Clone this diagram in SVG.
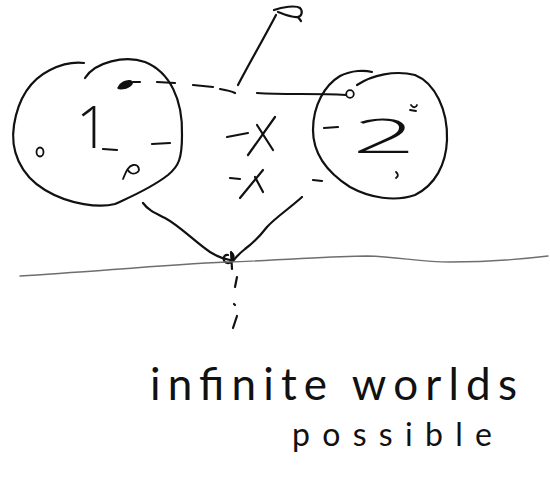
<svg xmlns="http://www.w3.org/2000/svg" width="550" height="479" viewBox="0 0 550 479">
<style>
.ink{fill:none;stroke:#111;stroke-width:2.2;stroke-linecap:round;stroke-linejoin:round}
.thin{fill:none;stroke:#111;stroke-width:1.8;stroke-linecap:round}
.ground{fill:none;stroke:#6e6e6e;stroke-width:1.4;stroke-linecap:round}
.hand{font-family:Lato,"Open Sans","Liberation Sans",sans-serif;font-weight:400;fill:#111}
.num{font-family:"Open Sans","Liberation Sans",sans-serif;font-weight:300;fill:#111}
</style>
<rect width="550" height="479" fill="#fff"/>
<g id="world1">
<path class="ink" d="M85,78 C95,62 125,55 145,62 C170,72 183,100 182,135 C182,158 179,166 168,175 C150,189 130,197 115,204 C100,208 70,205 45,190 C20,175 10,150 14,125 C18,100 30,80 50,70 C64,63 75,62 84,63"/>
<text class="num" x="76" y="148" font-size="58">1</text>
<path class="ink" d="M103,149 L117,150"/>
<path class="ink" d="M152,144 L170,143"/>
<ellipse cx="40" cy="152" rx="3.5" ry="4.5" class="thin"/>
<path class="thin" d="M123,179 C126,172 128,166 133,165 C139,164 141,171 136,173 C132,175 129,172 128,170"/>
<path d="M118,88 C120,83 126,80 131,81 C134,83 131,86 126,88 C122,89 119,89 118,88 Z" fill="#111" stroke="#111" stroke-width="1.5"/>
</g>
<g id="world2">
<path class="ink" d="M357,85 C372,75 395,70 415,75 C435,83 448,110 447,140 C446,165 435,185 415,195 C395,202 370,198 350,187 C328,173 313,155 313,130 C313,105 325,85 340,76 C352,70 365,70 372,72"/>
<text class="num" x="352" y="153" font-size="48" textLength="64" lengthAdjust="spacingAndGlyphs">2</text>
<path class="ink" d="M324,128 L338,127"/>
<circle cx="350" cy="94" r="3.8" class="thin"/>
<path class="thin" d="M411,105 C413,108 416,108 417,105 M410,110 L416,111"/>
<path class="thin" d="M396,172 C398,174 399,176 396,178"/>
</g>
<g id="observer">
<path class="ink" d="M238,85 C250,62 264,38 276,15"/>
<path class="ink" d="M274,10 C282,7 296,5 300,8 C303,11 302,16 298,17 C292,18 283,14 278,12 M298,17 L301,21"/>
</g>
<g id="marks">
<path class="ink" d="M227,137 L248,133"/>
<path class="ink" d="M248,155 L275,117"/>
<path class="ink" d="M257,125 L273,150"/>
<path class="ink" d="M230,178 L240,179"/>
<path class="ink" d="M240,198 L263,170"/>
<path class="ink" d="M255,177 L263,192"/>
<path class="ink" d="M313,180 L322,181"/>
</g>
<g id="connectors">
<path class="ink" d="M133,82 L140,82 M157,82 L175,83 M193,85 L213,87 M220,89 C226,90 231,91 235,93"/>
<path class="ink" d="M257,93 C285,95 315,93 346,95"/>
<path class="ink" d="M143,203 C148,210 155,213 165,218 C180,226 195,242 210,252 C218,257 224,259 230,260"/>
<path class="ink" d="M302,197 C290,208 275,218 267,227 C260,236 252,244 245,249 C240,253 236,257 233,261"/>
<path class="ink" d="M228,255 C222,254 222,264 229,263 C233,262 235,256 232,253 M231,252 L232,269"/>
<path class="ink" d="M237,277 L235,287 M234,304 L235,305 M237,316 L233,328"/>
</g>
<g id="horizon">
<path class="ground" d="M20,276 C90,272 160,265 227,262 C290,260 330,256 367,256 C400,257 420,262 450,262 C490,262 515,260 548,256"/>
</g>
<g id="label">
<text class="hand" x="150" y="400" font-size="44" textLength="367" lengthAdjust="spacing">infinite worlds</text>
<text class="hand" x="292" y="446" font-size="32" textLength="200" lengthAdjust="spacing">possible</text>
</g>
</svg>
